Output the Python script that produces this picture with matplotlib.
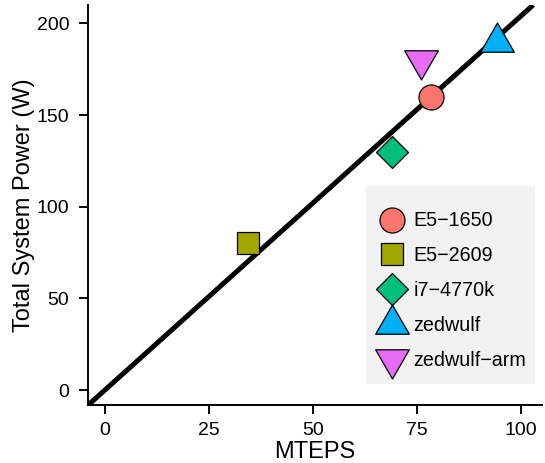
import matplotlib
matplotlib.use("Agg")
import matplotlib.pyplot as plt
from matplotlib.path import Path
from matplotlib.lines import Line2D
from matplotlib.patches import Rectangle
import numpy as np

plt.rcParams['font.family'] = ['Liberation Sans', 'DejaVu Sans']

# ---- data ----
systems = ["E5\u22121650", "E5\u22122609", "i7\u22124770k", "zedwulf", "zedwulf\u2212arm"]
mteps = [78.5, 34.3, 69.0, 94.3, 76.0]
power = [160, 80, 130, 190, 180]
colors = ["#F8766D", "#A3A500", "#00BF7D", "#00B0F6", "#E76BF3"]
fit_slope = 2.04
fit_intercept = 0.0
x_ticks = [0, 25, 50, 75, 100]
y_ticks = [0, 50, 100, 150, 200]

# marker shapes (R pch 21-25 like), sizes in px converted to pt
PX = 0.72
tri_up = Path([(0, 1), (-0.866, -0.5), (0.866, -0.5), (0, 1)],
              [Path.MOVETO, Path.LINETO, Path.LINETO, Path.CLOSEPOLY])
tri_dn = Path([(0, -1), (-0.866, 0.5), (0.866, 0.5), (0, -1)],
              [Path.MOVETO, Path.LINETO, Path.LINETO, Path.CLOSEPOLY])
markers = ["o", "s", "D", tri_up, tri_dn]
msizes = [25 * PX, 22.2 * PX, 22.2 * PX, 38.9 * PX, 38.9 * PX]

W, H = 545, 463
fig = plt.figure(figsize=(W / 100, H / 100), dpi=100)
L, R, B, T = 88.3, 541.7, 405.0, 5.0
ax = fig.add_axes([L / W, (H - B) / H, (R - L) / W, (B - T) / H])
ax.set_xlim(-4.0, 105.0)
ax.set_ylim(-8.18, 210.0)

ax.axline((0, fit_intercept), slope=fit_slope, color="black", lw=3.6,
          zorder=2, solid_capstyle="butt")

handles = []
for name, x, y, c, m, ms in zip(systems, mteps, power, colors, markers, msizes):
    ax.plot([x], [y], linestyle="none", marker=m, markersize=ms,
            markerfacecolor=c, markeredgecolor="black", markeredgewidth=0.9,
            zorder=3)
    handles.append(Line2D([], [], linestyle="none", marker=m, markersize=ms,
                          markerfacecolor=c, markeredgecolor="black",
                          markeredgewidth=0.9, label=name))

for s in ["top", "right"]:
    ax.spines[s].set_visible(False)
for s in ["left", "bottom"]:
    ax.spines[s].set_linewidth(1.4)
    ax.spines[s].set_capstyle("projecting")

TICK_FS = 14.0
ax.set_xticks(x_ticks)
ax.set_yticks(y_ticks)
ax.tick_params(axis="both", direction="out", length=6.3, width=1.4,
               labelsize=TICK_FS, colors="black")
ax.tick_params(axis="x", pad=6.0)
ax.tick_params(axis="y", pad=7.3)

ax.set_xlabel("MTEPS", fontsize=17.0)
ax.set_ylabel("Total System Power (W)", fontsize=17.0)
ax.xaxis.set_label_coords(0.5, -(441.0 - B) / (B - T))
ax.yaxis.set_label_coords((35.0 - L) / (R - L), 0.5)

# legend background and entries
fig.patches.append(Rectangle((366 / W, (H - 384) / H), (535 - 366) / W,
                             (384 - 186) / H, transform=fig.transFigure,
                             facecolor="#F2F2F2", edgecolor="none", zorder=4))
leg_fs = 14.2
fs = leg_fs * 100 / 72
leg = fig.legend(handles=handles, loc="center left",
                 bbox_to_anchor=((391.7 - fs) / W, 1 - 290.5 / H),
                 frameon=False, fontsize=leg_fs, borderpad=0, borderaxespad=0,
                 handlelength=2.0, handletextpad=0.1, labelspacing=0.8)
leg.set_zorder(5)

fig.savefig("out.png", dpi=100)
